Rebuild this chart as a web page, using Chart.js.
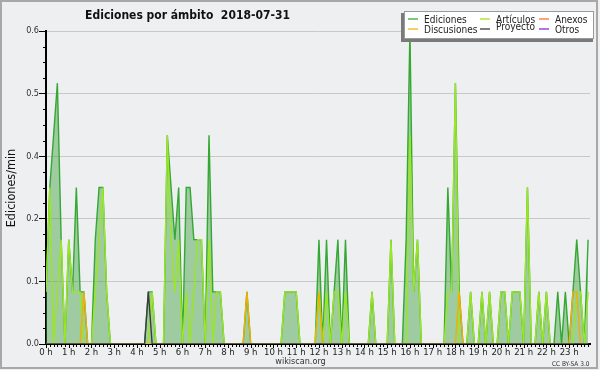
<!DOCTYPE html>
<html><head><meta charset="utf-8">
<script src="https://cdn.jsdelivr.net/npm/chart.js@4.4.1/dist/chart.umd.min.js"></script>
<style>html,body{margin:0;padding:0;background:#eeeff1;}#wrap{width:600px;height:370px;position:relative;}</style>
</head><body><div id="wrap"><canvas id="c" width="600" height="370"></canvas></div>
<script>
const chartTitle = 'Ediciones por ámbito  2018-07-31';
const yAxisTitle = 'Ediciones/min';
const footerSite = 'wikiscan.org';
const footerLicense = 'CC BY-SA 3.0';
const seriesNames = ['Ediciones', 'Artículos', 'Anexos', 'Discusiones', 'Proyecto', 'Otros'];
const hourLabels = ['0 h','1 h','2 h','3 h','4 h','5 h','6 h','7 h','8 h','9 h','10 h','11 h',
  '12 h','13 h','14 h','15 h','16 h','17 h','18 h','19 h','20 h','21 h','22 h','23 h'];
const yTickValues = [0, 0.12, 0.24, 0.36, 0.48, 0.6];
const yTickLabels = ['0.0', '0.1', '0.2', '0.4', '0.5', '0.6'];

// one value per 10 minutes (edits/min), 6 values per hour row
const ediciones = [
  .1,.3,.4,.5,.2,0,   .2,.1,.3,.1,.1,0,   0,.2,.3,.3,.1,0,    0,0,0,0,0,0,
  0,0,0,.1,.1,0,      0,0,.4,.3,.2,.3,    0,.3,.3,.2,.2,.2,   0,.4,.1,.1,.1,0,
  0,0,0,0,0,.1,       0,0,0,0,0,0,        0,0,0,.1,.1,.1,     .1,0,0,0,0,0,
  .2,0,.2,0,.1,.2,    0,.2,0,0,0,0,       0,0,.1,0,0,0,       0,.2,0,0,0,.2,
  .6,.1,.2,0,0,0,     0,0,0,0,.3,.1,      .5,.1,0,0,.1,0,     0,.1,0,.1,0,0,
  .1,.1,0,.1,.1,.1,   0,.3,0,0,.1,0,      .1,0,0,.1,0,.1,     0,.1,.2,.1,0,.2
];
const articulos = [
  .1,.3,0,.1,.2,0,    .2,.1,.1,.1,0,0,    0,.1,.2,.3,.1,0,    0,0,0,0,0,0,
  0,0,0,0,.1,0,       0,0,.4,.2,.1,.2,    0,.1,0,.1,.2,.2,    0,.2,0,.1,.1,0,
  0,0,0,0,0,0,        0,0,0,0,0,0,        0,0,0,.1,.1,.1,     .1,0,0,0,0,0,
  .1,0,.1,0,.1,.1,    0,.1,0,0,0,0,       0,0,.1,0,0,0,       0,.2,0,0,0,0,
  .4,.1,.2,0,0,0,     0,0,0,0,.1,.1,      .5,0,0,0,.1,0,      0,.1,0,.1,0,0,
  .1,.1,0,.1,.1,.1,   0,.3,0,0,.1,0,      .1,0,0,0,0,0,       0,0,.1,.1,0,.1
];
const anexos = [
  0,0,0,0,0,0, 0,0,0,0,0,0, 0,0,0,0,0,0, 0,0,0,0,0,0,
  0,0,0,0,0,0, 0,0,0,0,0,0, 0,0,0,0,0,0, 0,0,0,0,0,0,
  0,0,0,0,0,0, 0,0,0,0,0,0, 0,0,0,0,0,0, 0,0,0,0,0,0,
  0,0,0,0,0,0, 0,0,0,0,0,0, 0,0,0,0,0,0, 0,0,0,0,0,0,
  0,0,0,0,0,0, 0,0,0,0,0,0, 0,0,0,0,0,0, 0,0,0,0,0,0,
  0,0,0,0,0,0, 0,0,0,0,0,0, 0,0,0,0,0,0, 0,0,0,0,0,0
];
const discusiones = [
  0,0,0,0,0,0, 0,0,0,0,.1,0, 0,0,0,0,0,0, 0,0,0,0,0,0,
  0,0,0,0,0,0, 0,0,0,0,0,0, 0,0,0,0,0,0, 0,0,0,0,0,0,
  0,0,0,0,0,.1, 0,0,0,0,0,0, 0,0,0,0,0,0, 0,0,0,0,0,0,
  .1,0,0,0,0,0, 0,0,0,0,0,0, 0,0,0,0,0,0, 0,0,0,0,0,0,
  0,0,0,0,0,0, 0,0,0,0,0,0, 0,.1,0,0,0,0, 0,0,0,0,0,0,
  0,0,0,0,0,0, 0,0,0,0,0,0, 0,0,0,0,0,0, 0,.1,.1,0,0,0
];
const proyecto = [
  0,0,0,0,0,0, 0,0,0,0,0,0, 0,0,0,0,0,0, 0,0,0,0,0,0,
  0,0,0,.1,0,0, 0,0,0,0,0,0, 0,0,0,0,0,0, 0,0,0,0,0,0,
  0,0,0,0,0,0, 0,0,0,0,0,0, 0,0,0,0,0,0, 0,0,0,0,0,0,
  0,0,0,0,0,0, 0,0,0,0,0,0, 0,0,0,0,0,0, 0,0,0,0,0,0,
  0,0,0,0,0,0, 0,0,0,0,0,0, 0,0,0,0,0,0, 0,0,0,0,0,0,
  0,0,0,0,0,0, 0,0,0,0,0,0, 0,0,0,0,0,0, 0,0,0,0,0,0
];
const otros = [
  0,0,0,0,0,0, 0,0,0,0,0,0, 0,0,0,0,0,0, 0,0,0,0,0,0,
  0,0,0,0,0,0, 0,0,0,0,0,0, 0,0,0,0,0,0, 0,0,0,0,0,0,
  0,0,0,0,0,0, 0,0,0,0,0,0, 0,0,0,0,0,0, 0,0,0,0,0,0,
  0,0,0,0,0,0, 0,0,0,0,0,0, 0,0,0,0,0,0, 0,0,0,0,0,0,
  0,0,0,0,0,0, 0,0,0,0,0,0, 0,0,0,0,0,0, 0,0,0,0,0,0,
  0,0,0,0,0,0, 0,0,0,0,0,0, 0,0,0,0,0,0, 0,0,0,0,0,0
];

const seriesValues = [ediciones, articulos, anexos, discusiones, proyecto, otros];
const seriesColors = ['#33a833', '#9be625', '#ff8855', '#f0b000', '#3c3c3c', '#9944ee'];
const legendColors = ['#4cb84c', '#b0e63c', '#ff7f50', '#f5c030', '#555555', '#9347ee'];
const seriesOrder = [10, 5, 8, 3, 2, 7];

const FONT = '"DejaVu Sans Condensed", "DejaVu Sans", sans-serif';
const toPts = arr => arr.map((v, i) => ({x: i, y: v}));

const datasets = seriesNames.map((name, k) => ({
  label: name,
  data: toPts(seriesValues[k]),
  borderColor: seriesColors[k],
  backgroundColor: k === 0 ? 'rgba(60,160,60,0.45)' : seriesColors[k],
  fill: k === 0 ? 'origin' : false,
  borderWidth: 1.4,
  pointRadius: 0,
  tension: 0,
  order: seriesOrder[k]
}));

const deco = {
  id: 'deco',
  beforeDraw(chart) {
    const ctx = chart.ctx;
    ctx.save();
    ctx.fillStyle = '#eeeff1';
    ctx.fillRect(0, 0, chart.width, chart.height);
    ctx.restore();
  },
  afterDraw(chart) {
    const ctx = chart.ctx, ca = chart.chartArea, ys = chart.scales.y, xs = chart.scales.x;
    ctx.save();
    // minor y ticks
    ctx.strokeStyle = '#000'; ctx.lineWidth = 1;
    for (let k = 0; k < yTickValues.length - 1; k++) {
      const a = yTickValues[k], b = yTickValues[k + 1];
      for (let m = 1; m < 4; m++) {
        const py = Math.round(ys.getPixelForValue(a + (b - a) * m / 4)) + 0.5;
        ctx.beginPath(); ctx.moveTo(ca.left - 3, py); ctx.lineTo(ca.left, py); ctx.stroke();
      }
    }
    // x ticks at each 10-minute slot
    for (let i = 0; i < ediciones.length; i++) {
      const px = Math.round(xs.getPixelForValue(i)) + 0.5;
      const len = i % 6 === 0 ? 4 : 3;
      ctx.beginPath(); ctx.moveTo(px, ca.bottom); ctx.lineTo(px, ca.bottom + len); ctx.stroke();
    }
    // title
    ctx.fillStyle = '#111';
    ctx.font = 'bold 12px ' + FONT;
    ctx.textAlign = 'center'; ctx.textBaseline = 'alphabetic';
    ctx.fillText(chartTitle, 187.5, 18.5);
    // y axis title
    ctx.save();
    ctx.translate(15, 188);
    ctx.rotate(-Math.PI / 2);
    ctx.font = '12.5px ' + FONT;
    ctx.fillStyle = '#111';
    ctx.textAlign = 'center';
    ctx.fillText(yAxisTitle, 0, 0);
    ctx.restore();
    // footers
    ctx.fillStyle = '#333';
    ctx.font = '9px ' + FONT;
    ctx.textAlign = 'center';
    ctx.fillText(footerSite, 300.5, 364.3);
    ctx.font = '6.5px ' + FONT;
    ctx.textAlign = 'right';
    ctx.fillText(footerLicense, 589.5, 365.5);
    // legend
    ctx.fillStyle = '#7a7a7a';
    ctx.fillRect(401, 13, 192, 29);
    ctx.fillStyle = '#ffffff';
    ctx.fillRect(405, 12, 188, 26);
    ctx.strokeStyle = '#9a9a9a'; ctx.lineWidth = 1;
    ctx.strokeRect(404.5, 11.5, 189, 27);
    const colLine = [408, 480, 539], colText = [424, 496, 555];
    const rowY = [19, 29];
    ctx.font = '10px ' + FONT;
    ctx.textAlign = 'left';
    seriesNames.forEach((name, k) => {
      const col = k % 3, row = Math.floor(k / 3);
      ctx.strokeStyle = legendColors[k]; ctx.lineWidth = 1.5;
      ctx.beginPath(); ctx.moveTo(colLine[col], rowY[row]); ctx.lineTo(colLine[col] + 10, rowY[row]); ctx.stroke();
      ctx.fillStyle = '#222';
      const base = row === 0 ? 22.5 : (col === 1 ? 30 : 32.5);
      ctx.fillText(name, colText[col], base);
    });
    // frame
    ctx.strokeStyle = '#a8a8a8'; ctx.lineWidth = 2;
    ctx.strokeRect(1, 1, 596, 367);
    ctx.restore();
  }
};

new Chart(document.getElementById('c'), {
  type: 'line',
  data: { datasets },
  options: {
    responsive: false,
    animation: false,
    events: [],
    layout: { padding: { top: 31, right: 10, left: 0, bottom: 0 } },
    plugins: { legend: { display: false }, title: { display: false }, tooltip: { enabled: false } },
    scales: {
      x: {
        type: 'linear', min: 0, max: 143.5, z: 1,
        afterFit: s => { s.height = 26; },
        afterBuildTicks: s => { s.ticks = hourLabels.map((l, h) => ({ value: h * 6 })); },
        grid: { display: false, drawTicks: false },
        border: { display: true, color: '#000', width: 2 },
        ticks: {
          autoSkip: false, maxRotation: 0, padding: 3,
          color: '#222', font: { family: FONT, size: 9.5 },
          callback: (v, i) => hourLabels[i]
        }
      },
      y: {
        min: 0, max: 0.6,
        afterFit: s => { s.width = 46; },
        afterBuildTicks: s => { s.ticks = yTickValues.map(v => ({ value: v })); },
        grid: { color: '#c8c8c8', lineWidth: 1, drawTicks: true, tickLength: 7, tickColor: '#000' },
        border: { display: true, color: '#000', width: 2 },
        ticks: {
          padding: 0, color: '#333', font: { family: FONT, size: 9 },
          callback: (v, i) => yTickLabels[i]
        }
      }
    }
  },
  plugins: [deco]
});
</script>
</body></html>
